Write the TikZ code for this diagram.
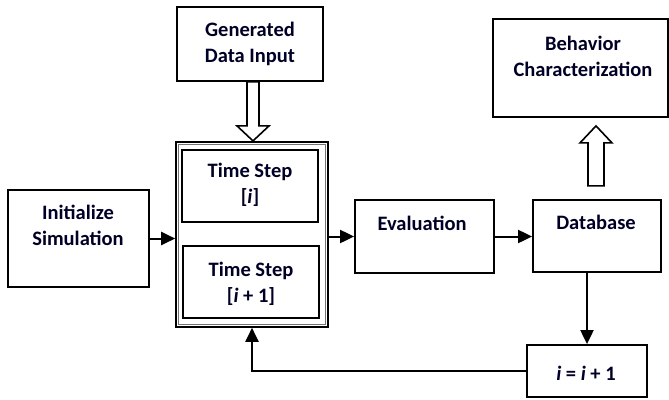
\documentclass[tikz,border=0pt]{standalone}
\usepackage{fontspec}
\setmainfont{Carlito}
\usetikzlibrary{arrows.meta,calc}
\tikzset{
  box/.style={draw=black, line width=1.8pt, rectangle, inner sep=0pt},
  txt/.style={align=center, font=\fontsize{20.5}{26}\selectfont\bfseries, text=black!85!blue, inner sep=0pt},
  flow/.style={line width=2pt, -{Triangle[length=14pt,width=13pt]}},
  hollow/.style={draw=black, line width=1.6pt, fill=white, line join=miter}
}
\begin{document}
\begin{tikzpicture}[x=1pt,y=-1pt]
\useasboundingbox (0,0) rectangle (669,399);

% boxes
\node[box, minimum width=141pt, minimum height=97pt] (init) at (78.5,238.5) {};
\node[box, minimum width=146pt, minimum height=74pt] (gen) at (250,44) {};
\node[box, minimum width=152pt, minimum height=185pt, line width=1.6pt] (cont) at (252,234.5) {};
\draw[line width=0.8pt, black!55] ($(cont.north west)+(3.5,3.5)$) rectangle ($(cont.south east)+(-3.5,-3.5)$);
\node[box, minimum width=136pt, minimum height=72pt] (ts1) at (250,186) {};
\node[box, minimum width=136pt, minimum height=72pt] (ts2) at (251,282) {};
\node[box, minimum width=139pt, minimum height=73pt] (eval) at (424.5,236.5) {};
\node[box, minimum width=128pt, minimum height=72pt] (db) at (597,236) {};
\node[box, minimum width=120pt, minimum height=52pt] (inc) at (587,371) {};
\node[box, minimum width=175pt, minimum height=98pt] (beh) at (580.5,68) {};

% labels
\node[txt] (tinit) at (78,225.5) {Initialize\\Simulation};
\node[txt] (tgen) at (250,43.5) {Generated\\Data Input};
\node[txt] (tts1) at (250,185) {Time Step\\{[\textit{i}]}};
\node[txt] (tts2) at (251,284) {Time Step\\{[\textit{i} + 1]}};
\node[txt] (teval) at (422,223) {Evaluation};
\node[txt] (tdb) at (596,222) {Database};
\node[txt] (tinc) at (586,373) {\textit{i} = \textit{i} + 1};
\node[txt] (tbeh) at (583,56.5) {Behavior\\Characterization};

% connectors
\draw[flow] (init.east) -- (init.east -| cont.west);
\draw[flow] (eval.west -| cont.east) -- (eval.west);
\draw[flow] (eval.east) -- (eval.east -| db.west);
\draw[flow] (inc.north |- db.south) -- (inc.north);
\draw[flow] (inc.west) -- (inc.west -| cont.south) -- (cont.south);

% hollow block arrows
\coordinate (dn) at ($(gen.south)+(3,0)$);
\draw[hollow] ($(dn)+(-6,0)$) -- ($(dn)+(6,0)$) -- ($(dn)+(6,44)$) -- ($(dn)+(16,44)$)
  -- ($(dn)+(0,59)$) -- ($(dn)+(-16,44)$) -- ($(dn)+(-6,44)$) -- cycle;
\coordinate (up) at ($(beh.south)+(15.5,8)$);
\draw[hollow] ($(up)+(0,0)$) -- ($(up)+(16,17)$) -- ($(up)+(8,17)$) -- ($(up)+(8,60)$)
  -- ($(up)+(-8,60)$) -- ($(up)+(-8,17)$) -- ($(up)+(-16,17)$) -- cycle;
\end{tikzpicture}
\end{document}
